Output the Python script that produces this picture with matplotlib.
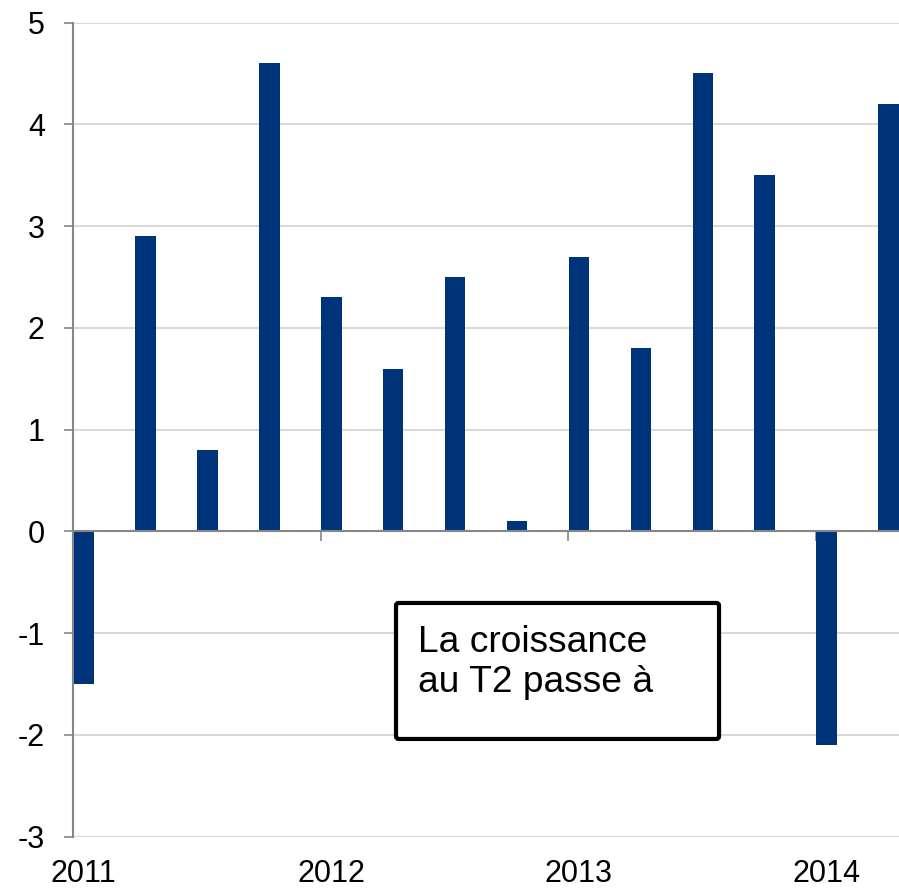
import matplotlib
matplotlib.use("Agg")
import matplotlib.pyplot as plt
from matplotlib.patches import FancyBboxPatch
from matplotlib.transforms import blended_transform_factory

plt.rcParams['font.family'] = ['Liberation Sans', 'DejaVu Sans']

# Data: quarterly growth, 2011 Q1 -> 2014 Q2
quarters = ["2011T1", "2011T2", "2011T3", "2011T4",
            "2012T1", "2012T2", "2012T3", "2012T4",
            "2013T1", "2013T2", "2013T3", "2013T4",
            "2014T1", "2014T2"]
values = [-1.5, 2.9, 0.8, 4.6, 2.3, 1.6, 2.5, 0.1, 2.7, 1.8, 4.5, 3.5, -2.1, 4.2]
year_labels = ["2011", "2012", "2013", "2014"]
year_label_pos = [0, 4, 8, 12]
y_ticks = [-3, -2, -1, 0, 1, 2, 3, 4, 5]
annotation = "La croissance\nau T2 passe à"

BAR_COLOR = "#00347a"
GRID_COLOR = "#d9d9d9"
AXIS_COLOR = "#868686"

fig = plt.figure(figsize=(8.99, 8.90), dpi=100)
ax = fig.add_axes([0.0815, 0.0599, 0.9185, 0.9148])

x = list(range(len(values)))
ax.bar(x, values, width=0.33, color=BAR_COLOR, zorder=3)

x_left = -0.17
ax.set_xlim(x_left, 13.17)
ax.set_ylim(-3, 5)

# Y axis
ax.set_yticks(y_ticks)
ax.set_yticklabels([str(v) for v in y_ticks])
ax.tick_params(axis='y', direction='out', length=6.5, width=1.2,
               color=AXIS_COLOR, labelsize=22, pad=14, labelcolor='black')
for v in y_ticks:
    if v != 0:
        ax.axhline(v, color=GRID_COLOR, lw=1.5, zorder=1)

# Spines
for s in ['top', 'right']:
    ax.spines[s].set_visible(False)
ax.spines['left'].set_color(AXIS_COLOR)
ax.spines['left'].set_linewidth(1.5)
ax.spines['bottom'].set_position(('data', 0))
ax.spines['bottom'].set_color(AXIS_COLOR)
ax.spines['bottom'].set_linewidth(1.5)
ax.spines['bottom'].set_zorder(4)

# X ticks at year boundaries (no labels on the zero line)
boundaries = [x_left + 4 * k for k in range(4)]
ax.set_xticks(boundaries)
ax.set_xticklabels([""] * len(boundaries))
ax.tick_params(axis='x', direction='out', length=7.2, width=1.2, color=AXIS_COLOR)

# Year labels below the plot
trans = blended_transform_factory(ax.transData, ax.transAxes)
for pos, lab in zip(year_label_pos, year_labels):
    ax.text(pos, -0.046, lab, transform=trans, ha='center', va='center',
            fontsize=22, color='black', clip_on=False)

# Annotation box
box = FancyBboxPatch((0.4405, 0.1697), 0.7998 - 0.4405, 0.3225 - 0.1697,
                     boxstyle="round,pad=0,rounding_size=0.003",
                     transform=fig.transFigure, facecolor='white',
                     edgecolor='black', linewidth=3, zorder=10)
fig.patches.append(box)
fig.text(0.465, 0.2978, annotation, ha='left', va='top', fontsize=26.7,
         color='black', zorder=11, linespacing=1.2)

fig.savefig("out.png", dpi=100)
